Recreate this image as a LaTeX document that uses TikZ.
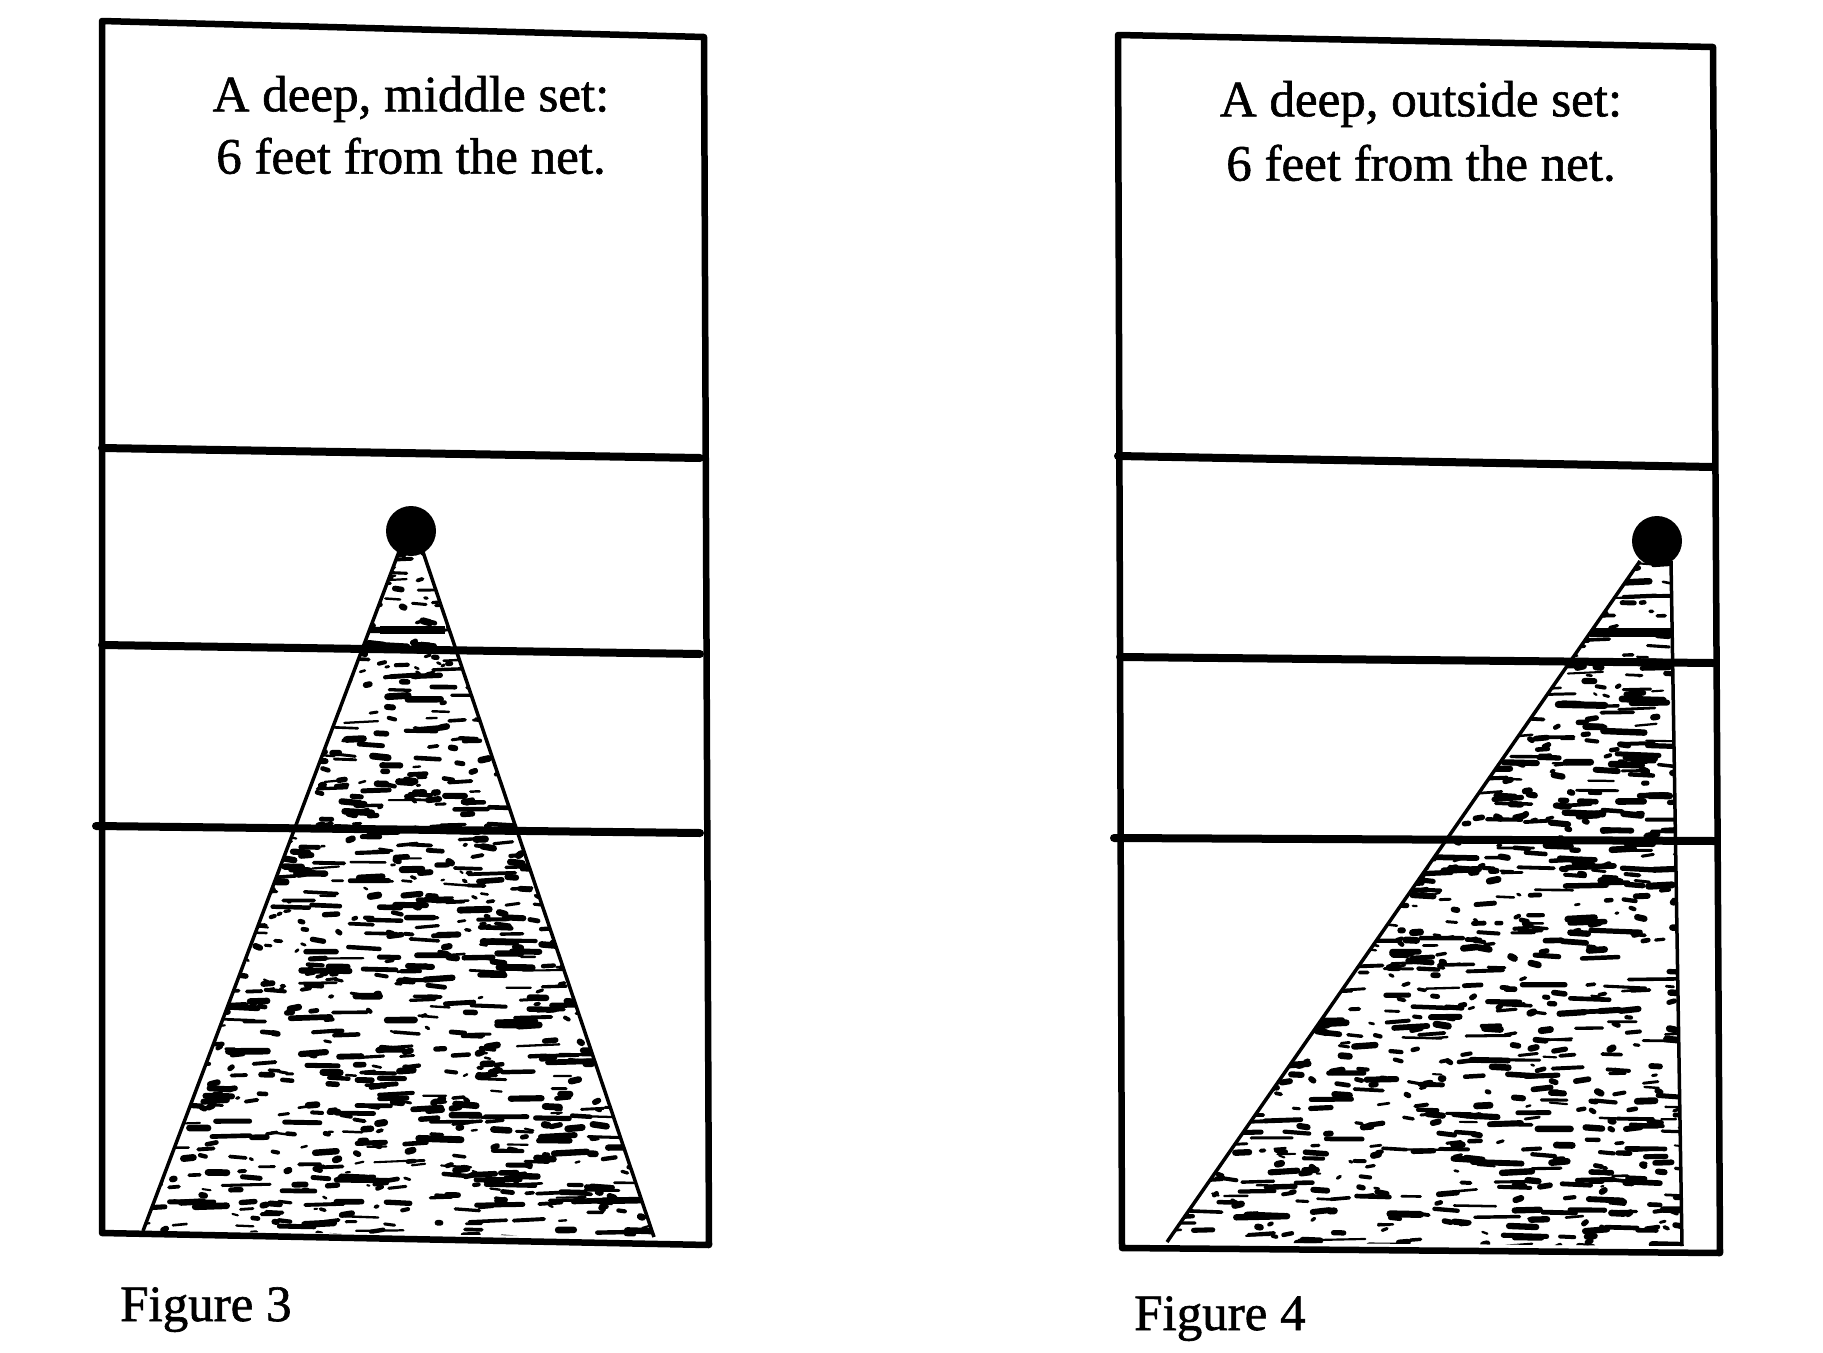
\documentclass[tikz,border=0pt]{standalone}
\usepackage{fontspec}
\setmainfont{Liberation Serif}
\newfontfamily\scanfont[FakeBold=1.2]{Liberation Serif}
\begin{document}
\begin{tikzpicture}[x=1pt,y=-1pt,
  courtline/.style={line width=6.5pt,line cap=round,line join=round},
  zoneline/.style={line width=8pt,line cap=round},
  coneedge/.style={line width=3.5pt},
  speck/.style={line cap=round},
  ballnode/.style={circle,fill=black,inner sep=0pt,minimum size=50pt},
  caption/.style={font=\scanfont\fontsize{51}{60}\selectfont,inner sep=0pt,align=center},
  figlabel/.style={font=\scanfont\fontsize{51}{60}\selectfont,inner sep=0pt,anchor=base west}]
\useasboundingbox[fill=white] (0,0) rectangle (1823,1352);

% ---------------- Figure 3 ----------------
\coordinate (a1) at (102,21);
\coordinate (a2) at (704,37);
\coordinate (a3) at (709,1245);
\coordinate (a4) at (102,1233);
\coordinate (aL1) at (102,448); \coordinate (aR1) at (700,458);
\coordinate (aL2) at (102,645); \coordinate (aR2) at (700,654);
\coordinate (aL3) at (96,826);  \coordinate (aR3) at (700,833);
\coordinate (apexAl) at (400,549);
\coordinate (apexAr) at (422,549);
\coordinate (baseAl) at (143,1231);
\coordinate (baseAr) at (654,1237);

\begin{scope}
  \clip (apexAl) -- (baseAl) -- (baseAr) -- (apexAr) -- cycle;
  \pgfmathsetseed{11}
  \foreach \i in {1,...,1500}{
    \pgfmathsetmacro\px{130+rnd*530}
    \pgfmathsetmacro\py{545+rnd*700}
    \pgfmathsetmacro\len{2+rnd*rnd*50}
    \pgfmathsetmacro\lw{2+rnd*5}
    \draw[speck,line width=\lw pt] (\px,\py) -- ++(\len,rnd*4-2);
  }
  \fill (380,626) rectangle (445,634);
\end{scope}
\draw[coneedge] (apexAl) -- (baseAl);
\draw[coneedge] (apexAr) -- (baseAr);

\draw[courtline] (a1) -- (a2) -- (a3) -- (a4) -- cycle;
\draw[zoneline] (aL1) -- (aR1);
\draw[zoneline] (aL2) -- (aR2);
\draw[zoneline] (aL3) -- (aR3);
\node[ballnode] (ballA) at (411,531) {};

\node[caption] (capA1) at (411,99) {A deep, middle set:};
\node[caption] (capA2) at (411,156) {6 feet from the net.};
\node[figlabel] (figA) at (120,1321) {Figure 3};

% ---------------- Figure 4 ----------------
\coordinate (b1) at (1118,35);
\coordinate (b2) at (1713,47);
\coordinate (b3) at (1720,1253);
\coordinate (b4) at (1122,1248);
\coordinate (bL1) at (1118,456); \coordinate (bR1) at (1713,467);
\coordinate (bL2) at (1120,657); \coordinate (bR2) at (1713,663);
\coordinate (bL3) at (1114,838); \coordinate (bR3) at (1715,841);
\coordinate (apexBl) at (1640,561);
\coordinate (apexBr) at (1671,561);
\coordinate (baseBl) at (1167,1242);
\coordinate (baseBr) at (1682,1246);

\begin{scope}
  \clip (apexBl) -- (baseBl) -- (baseBr) -- (apexBr) -- cycle;
  \pgfmathsetseed{23}
  \foreach \i in {1,...,1400}{
    \pgfmathsetmacro\px{1150+rnd*540}
    \pgfmathsetmacro\py{555+rnd*695}
    \pgfmathsetmacro\len{2+rnd*rnd*50}
    \pgfmathsetmacro\lw{2+rnd*5}
    \draw[speck,line width=\lw pt] (\px,\py) -- ++(\len,rnd*4-2);
  }
  \fill (1590,628) rectangle (1680,637);
\end{scope}
\draw[coneedge] (apexBl) -- (baseBl);
\draw[coneedge] (apexBr) -- (baseBr);

\draw[courtline] (b1) -- (b2) -- (b3) -- (b4) -- cycle;
\draw[zoneline] (bL1) -- (bR1);
\draw[zoneline] (bL2) -- (bR2);
\draw[zoneline] (bL3) -- (bR3);
\node[ballnode] (ballB) at (1657,541) {};

\node[caption] (capB1) at (1421,104) {A deep, outside set:};
\node[caption] (capB2) at (1421,163) {6 feet from the net.};
\node[figlabel] (figB) at (1134,1330) {Figure 4};
\end{tikzpicture}
\end{document}
